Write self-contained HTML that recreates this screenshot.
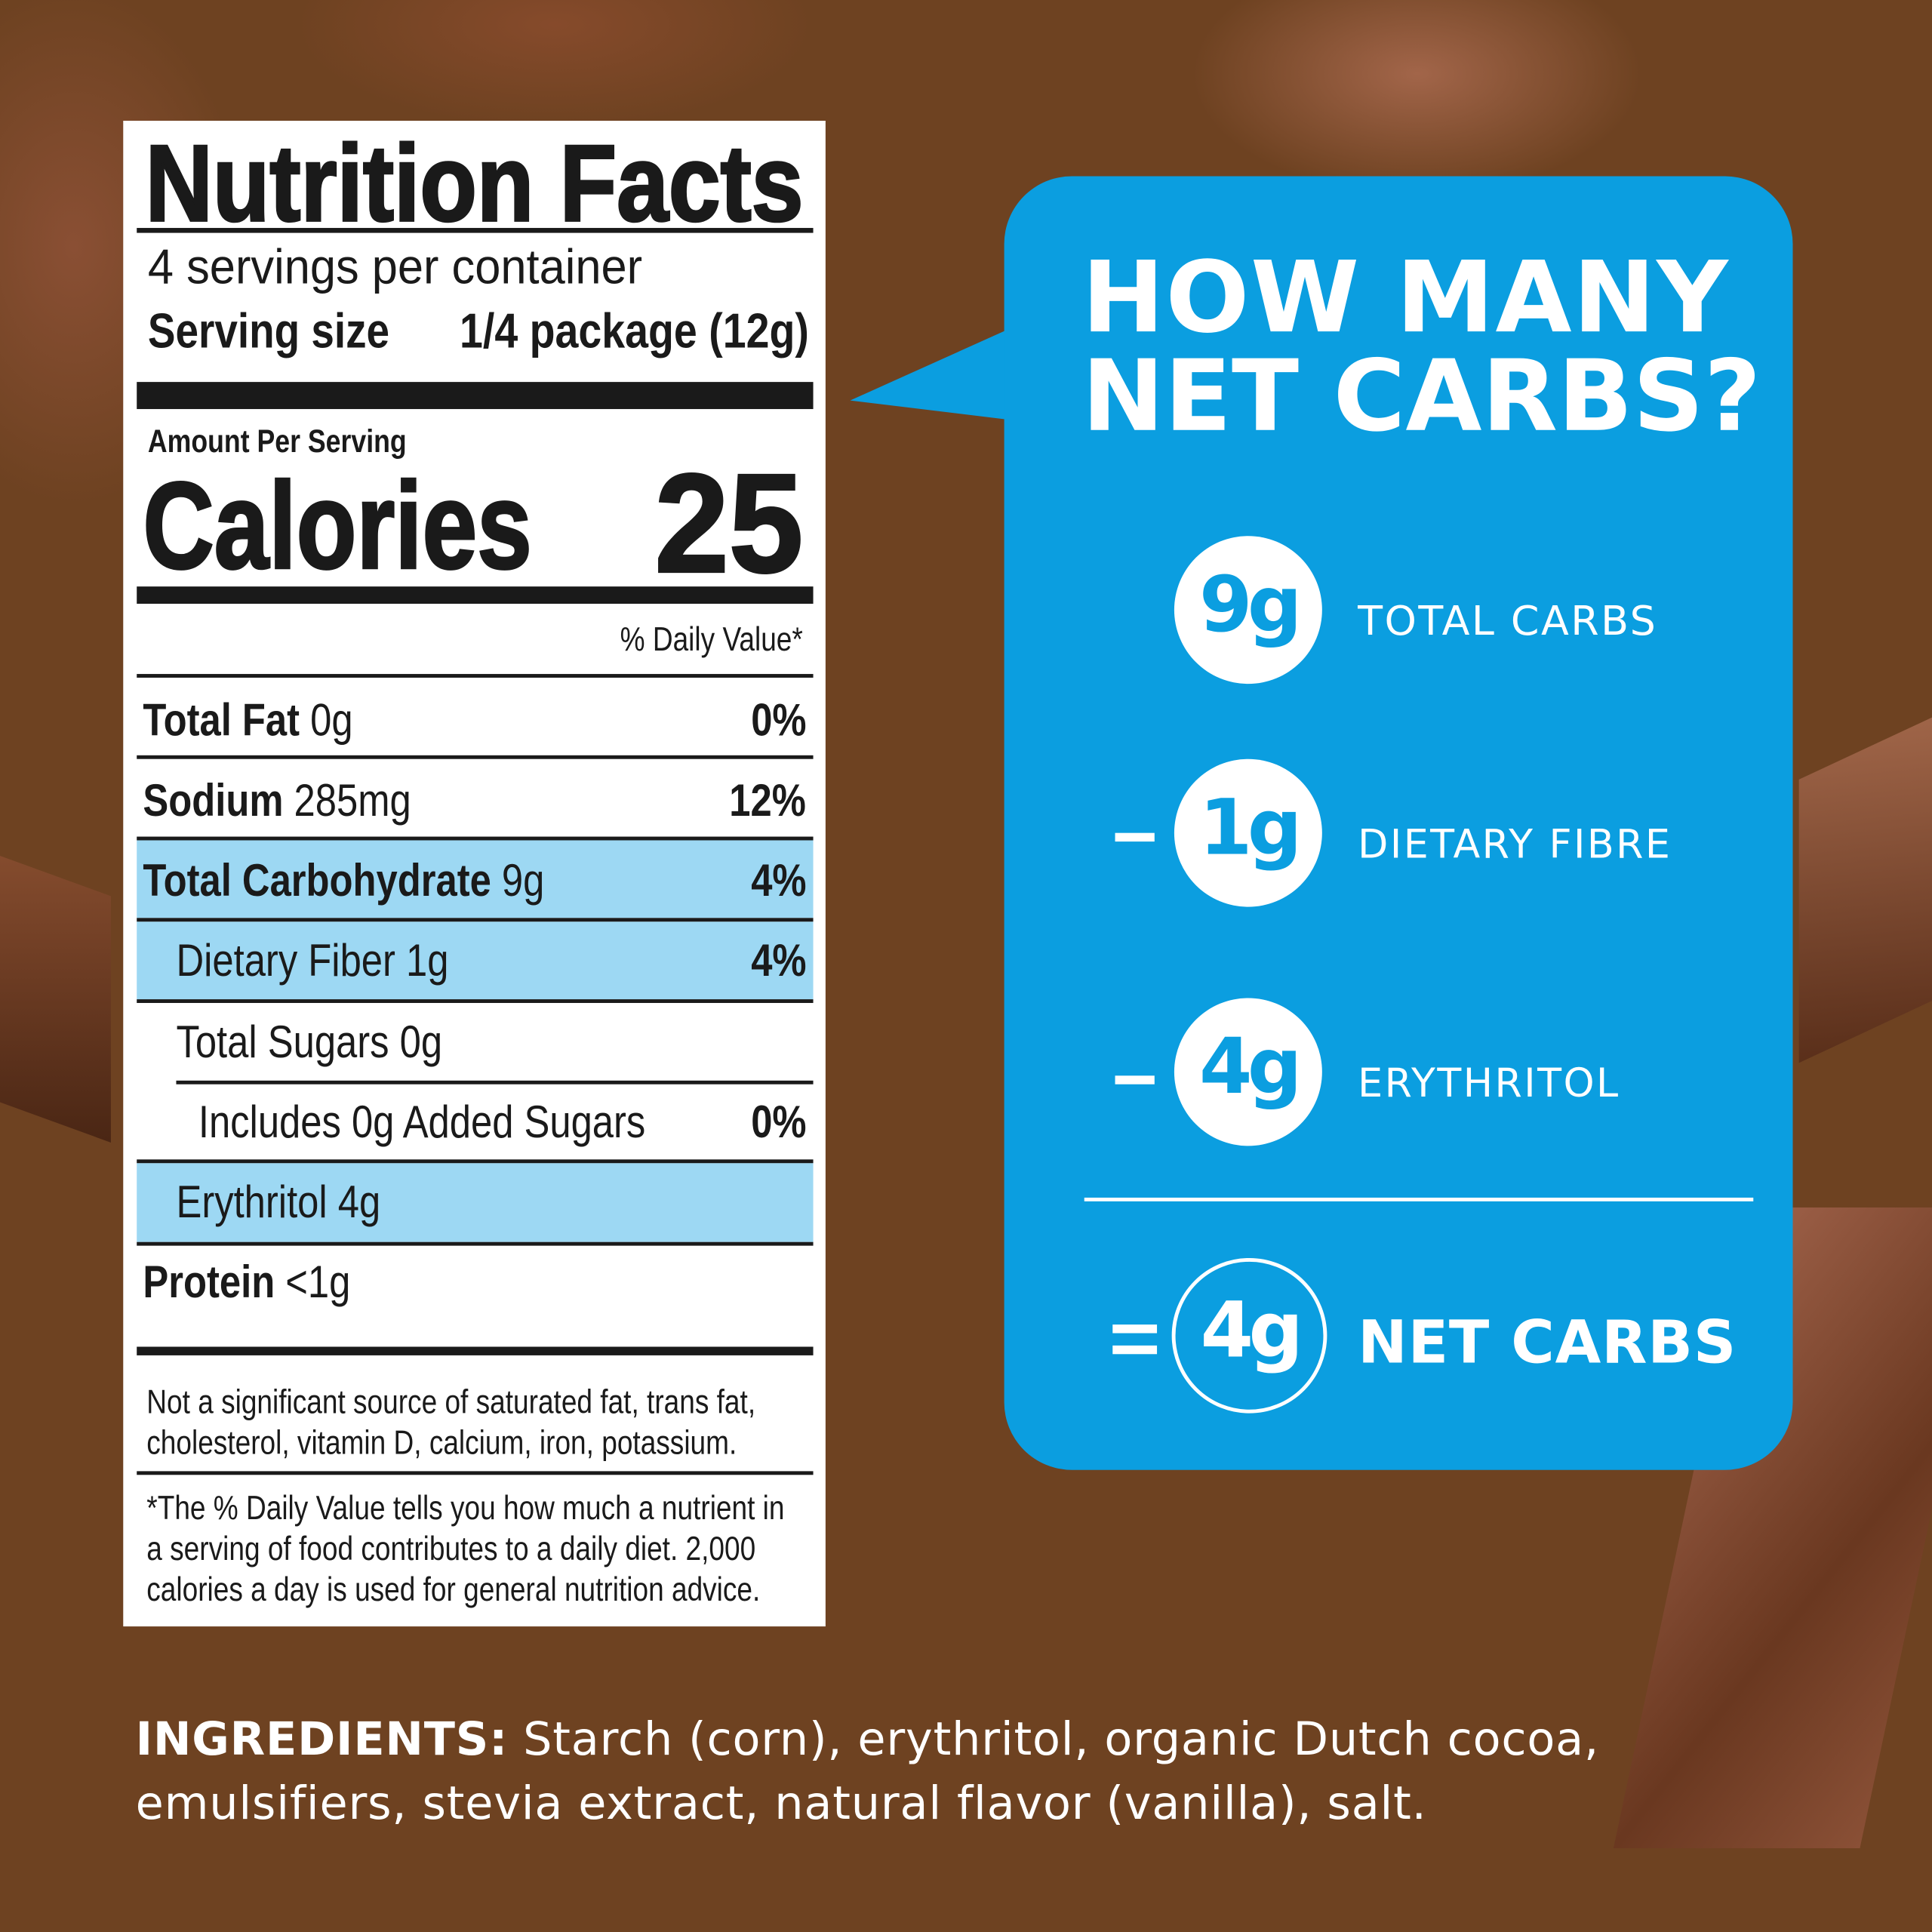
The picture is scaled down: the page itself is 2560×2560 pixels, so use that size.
<!DOCTYPE html>
<html><head><meta charset="utf-8"><style>
html,body{margin:0;padding:0;width:2560px;height:2560px;overflow:hidden;background:#6b4020}
#s{position:absolute;left:0;top:0;width:1568px;height:1568px;transform:scale(1.632653);transform-origin:0 0;font-family:"Liberation Sans",sans-serif;overflow:hidden;
background:
radial-gradient(ellipse 260px 140px at 1150px 60px,rgba(190,120,95,.65),transparent 70%),
radial-gradient(ellipse 200px 300px at 60px 200px,rgba(150,85,60,.7),transparent 70%),
radial-gradient(ellipse 300px 120px at 450px 20px,rgba(150,80,50,.6),transparent 70%),
#6e4221}
.a{position:absolute;white-space:nowrap}
.c{display:inline-block;transform:scaleX(.84);transform-origin:0 0}
.cr{display:inline-block;transform:scaleX(.84);transform-origin:100% 0}
.hl{position:absolute;left:111px;width:549px;background:#9dd8f3}
.ln{position:absolute;background:#1a1a1a}
.lab{font-family:"Liberation Sans",sans-serif;color:#1a1a1a}
.w{color:#fff;font-family:"DejaVu Sans","Liberation Sans",sans-serif}
.circ{position:absolute;width:120px;height:120px;border-radius:50%;background:#fff;color:#0b9ee0;font:bold 62px "DejaVu Sans",sans-serif;text-align:center;line-height:112px;letter-spacing:-4px}
</style></head><body><div id="s">
<!-- chocolate pieces -->
<div style="position:absolute;left:-60px;top:700px;width:150px;height:200px;background:linear-gradient(160deg,#8a4f30,#4a2614);transform:skewY(20deg)"></div>
<div style="position:absolute;left:1460px;top:600px;width:140px;height:230px;background:linear-gradient(200deg,#a2674a,#5a2f1a);transform:skewY(-25deg)"></div>
<div style="position:absolute;left:1420px;top:980px;width:200px;height:520px;background:linear-gradient(120deg,#a0624a,#6a3820 60%,#8a5036);transform:skewX(-12deg);transform-origin:0 0"></div>
<!-- label -->
<div style="position:absolute;left:100px;top:98px;width:570px;height:1222px;background:#fff"></div>
<div class="hl" style="top:682px;height:63px"></div>
<div class="hl" style="top:748px;height:63px"></div>
<div class="hl" style="top:944px;height:64px"></div>
<div class="a lab" style="left:118px;top:98px;font-size:88px;font-weight:bold;-webkit-text-stroke:2px #1a1a1a"><span class="c" style="transform:scaleX(.86)">Nutrition Facts</span></div>
<div class="ln" style="left:111px;top:185px;width:549px;height:4px"></div>
<div class="a lab" style="left:120px;top:195px;font-size:40px"><span class="c" style="transform:scaleX(.94)">4 servings per container</span></div>
<div class="a lab" style="left:120px;top:247px;font-size:40px;font-weight:bold"><span class="c">Serving size</span></div>
<div class="a lab" style="right:912px;top:247px;font-size:40px;font-weight:bold"><span class="cr" style="transform:scaleX(.85)">1/4 package (12g)</span></div>
<div class="ln" style="left:111px;top:310px;width:549px;height:22px"></div>
<div class="a lab" style="left:120px;top:343px;font-size:26px;font-weight:bold"><span class="c">Amount Per Serving</span></div>
<div class="a lab" style="left:116px;top:370px;font-size:100px;font-weight:bold;-webkit-text-stroke:2px #1a1a1a"><span class="c" style="transform:scaleX(.8)">Calories</span></div>
<div class="a lab" style="right:916px;top:360px;font-size:114px;font-weight:bold;-webkit-text-stroke:2px #1a1a1a"><span class="cr" style="transform:scaleX(.95)">25</span></div>
<div class="ln" style="left:111px;top:476px;width:549px;height:14px"></div>
<div class="a lab" style="right:916px;top:504px;font-size:27px"><span class="cr">% Daily Value*</span></div>
<div class="ln" style="left:111px;top:547px;width:549px;height:3px"></div>
<div class="a lab" style="left:116px;top:564px;font-size:37px"><span class="c"><b>Total Fat</b> 0g</span></div>
<div class="a lab" style="right:914px;top:564px;font-size:37px;font-weight:bold"><span class="cr">0%</span></div>
<div class="ln" style="left:111px;top:613px;width:549px;height:3px"></div>
<div class="a lab" style="left:116px;top:629px;font-size:37px"><span class="c"><b>Sodium</b> 285mg</span></div>
<div class="a lab" style="right:914px;top:629px;font-size:37px;font-weight:bold"><span class="cr">12%</span></div>
<div class="ln" style="left:111px;top:679px;width:549px;height:3px"></div>
<div class="a lab" style="left:116px;top:694px;font-size:37px"><span class="c"><b>Total Carbohydrate</b> 9g</span></div>
<div class="a lab" style="right:914px;top:694px;font-size:37px;font-weight:bold"><span class="cr">4%</span></div>
<div class="ln" style="left:111px;top:745px;width:549px;height:3px"></div>
<div class="a lab" style="left:143px;top:759px;font-size:37px"><span class="c">Dietary Fiber 1g</span></div>
<div class="a lab" style="right:914px;top:759px;font-size:37px;font-weight:bold"><span class="cr">4%</span></div>
<div class="ln" style="left:111px;top:811px;width:549px;height:3px"></div>
<div class="a lab" style="left:143px;top:825px;font-size:37px"><span class="c">Total Sugars 0g</span></div>
<div class="ln" style="left:143px;top:877px;width:517px;height:3px"></div>
<div class="a lab" style="left:161px;top:890px;font-size:37px"><span class="c">Includes 0g Added Sugars</span></div>
<div class="a lab" style="right:914px;top:890px;font-size:37px;font-weight:bold"><span class="cr">0%</span></div>
<div class="ln" style="left:111px;top:941px;width:549px;height:3px"></div>
<div class="a lab" style="left:143px;top:955px;font-size:37px"><span class="c">Erythritol 4g</span></div>
<div class="ln" style="left:111px;top:1008px;width:549px;height:3px"></div>
<div class="a lab" style="left:116px;top:1020px;font-size:37px"><span class="c"><b>Protein</b> &lt;1g</span></div>
<div class="ln" style="left:111px;top:1093px;width:549px;height:7px"></div>
<div class="a lab" style="left:119px;top:1122px;font-size:27px;line-height:33px"><span class="c">Not a significant source of saturated fat, trans fat,<br>cholesterol, vitamin D, calcium, iron, potassium.</span></div>
<div class="ln" style="left:111px;top:1194px;width:549px;height:3px"></div>
<div class="a lab" style="left:119px;top:1208px;font-size:27px;line-height:33px"><span class="c">*The % Daily Value tells you how much a nutrient in<br>a serving of food contributes to a daily diet. 2,000<br>calories a day is used for general nutrition advice.</span></div>
<!-- blue box -->
<svg class="a" style="left:0;top:0" width="1568" height="1568"><polygon points="690,325 830,262 830,342" fill="#0b9ee0"/></svg>
<div style="position:absolute;left:815px;top:143px;width:640px;height:1050px;background:#0b9ee0;border-radius:55px"></div>
<div class="a w" style="left:878px;top:202px;font-size:80px;font-weight:bold;line-height:80px;letter-spacing:0px"><span style="letter-spacing:1px">HOW MANY</span><br>NET CARBS?</div>
<div class="circ" style="left:953px;top:435px">9g</div>
<div class="a w" style="left:1102px;top:484px;font-size:33px;letter-spacing:1.5px">TOTAL CARBS</div>
<div class="a" style="left:905px;top:676px;width:32px;height:7px;background:#fff"></div>
<div class="circ" style="left:953px;top:616px">1g</div>
<div class="a w" style="left:1102px;top:666px;font-size:32px;letter-spacing:1.5px">DIETARY FIBRE</div>
<div class="a" style="left:905px;top:873px;width:32px;height:7px;background:#fff"></div>
<div class="circ" style="left:953px;top:810px">4g</div>
<div class="a w" style="left:1102px;top:860px;font-size:32px;letter-spacing:1.5px">ERYTHRITOL</div>
<div class="a" style="left:880px;top:972px;width:543px;height:3px;background:#fff"></div>
<div class="a" style="left:903px;top:1075px;width:36px;height:7px;background:#fff"></div>
<div class="a" style="left:903px;top:1092px;width:36px;height:7px;background:#fff"></div>
<div class="circ" style="left:951px;top:1021px;background:none;border:3px solid #fff;color:#fff">4g</div>
<div class="a w" style="left:1102px;top:1062px;font-size:48px;font-weight:bold;letter-spacing:0.5px">NET CARBS</div>
<!-- ingredients -->
<div class="a w" style="left:110px;top:1386px;font-size:37px;line-height:52px;letter-spacing:0.5px"><b>INGREDIENTS:</b> Starch (corn), erythritol, organic Dutch cocoa,<br>emulsifiers, stevia extract, natural flavor (vanilla), salt.</div>
</div></body></html>
